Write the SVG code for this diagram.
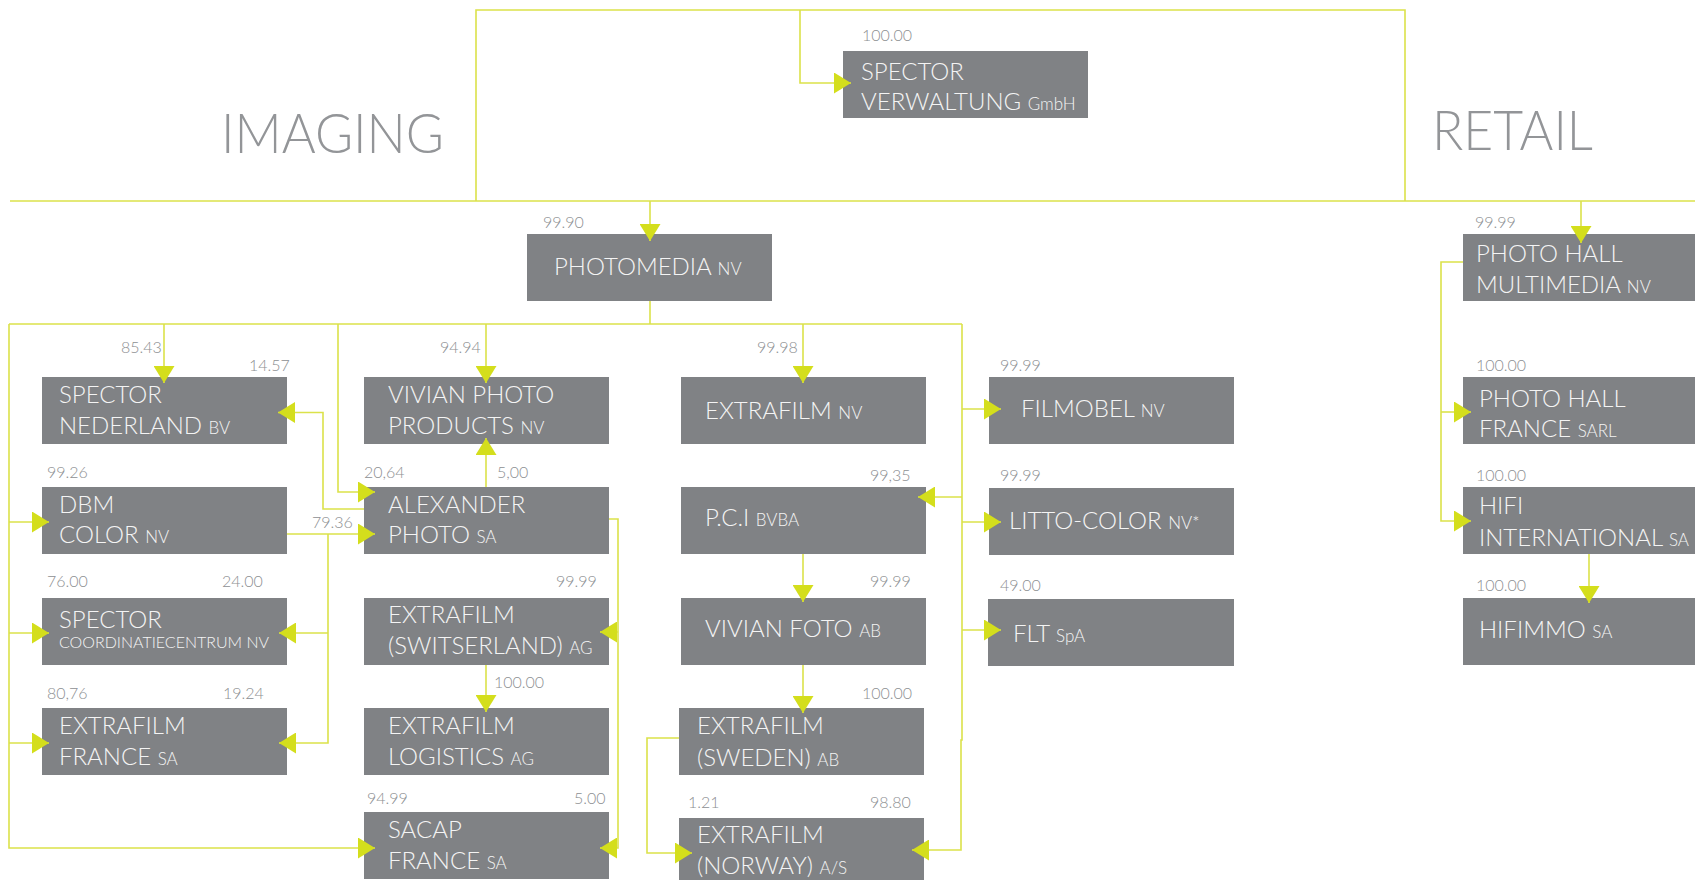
<svg xmlns="http://www.w3.org/2000/svg" width="1695" height="880" viewBox="0 0 1695 880">
<style>
.bg{fill:#ffffff}
.box{fill:#808285}
.t{font-family:Lato,"Open Sans","Liberation Sans",sans-serif;font-weight:300;font-size:24px;fill:#f4f4f4}
.s{font-size:17px}
.xs{font-size:15px}
.lbl{font-family:Lato,"Open Sans","Liberation Sans",sans-serif;font-weight:300;font-size:16px;fill:#8d8f92}
.head{font-family:Lato,"Open Sans","Liberation Sans",sans-serif;font-weight:300;font-size:55px;fill:#939598}
.ln{fill:none;stroke:#dbe24a;stroke-width:1.6}
.ar{marker-end:url(#arr)}
</style>
<defs>
<marker id="arr" markerUnits="userSpaceOnUse" viewBox="0 0 17 21" refX="17" refY="10.5" markerWidth="17" markerHeight="21" orient="auto">
<path d="M0,0 L17,10.5 L0,21 Z" fill="#d4de1c"/>
</marker>
</defs>
<rect class="bg" x="0" y="0" width="1695" height="880"/>

<text class="head" x="221" y="153" textLength="223" lengthAdjust="spacingAndGlyphs">IMAGING</text>
<text class="head" x="1432" y="150" textLength="161" lengthAdjust="spacingAndGlyphs">RETAIL</text>

<g id="nodes-boxes">
<g id="n-spector-verwaltung"><rect class="box" x="843" y="51" width="245" height="67"/><text class="lbl" x="862" y="41">100.00</text><text class="t" x="861" y="80">SPECTOR</text><text class="t" x="861" y="110">VERWALTUNG <tspan class="s">GmbH</tspan></text></g>
<g id="n-photomedia"><rect class="box" x="527" y="234" width="245" height="67"/><text class="lbl" x="543" y="228">99.90</text><text class="t" x="554" y="275">PHOTOMEDIA <tspan class="s">NV</tspan></text></g>
<g id="n-photohall-multimedia"><rect class="box" x="1463" y="234" width="245" height="67"/><text class="lbl" x="1475" y="228">99.99</text><text class="t" x="1476" y="262">PHOTO HALL</text><text class="t" x="1476" y="293">MULTIMEDIA <tspan class="s">NV</tspan></text></g>
<g id="n-photohall-france"><rect class="box" x="1463" y="377" width="245" height="67"/><text class="lbl" x="1476" y="371">100.00</text><text class="t" x="1479" y="407">PHOTO HALL</text><text class="t" x="1479" y="437">FRANCE <tspan class="s">SARL</tspan></text></g>
<g id="n-hifi"><rect class="box" x="1463" y="487" width="245" height="67"/><text class="lbl" x="1476" y="481">100.00</text><text class="t" x="1479" y="514">HIFI</text><text class="t" x="1479" y="546">INTERNATIONAL <tspan class="s">SA</tspan></text></g>
<g id="n-hifimmo"><rect class="box" x="1463" y="598" width="245" height="67"/><text class="lbl" x="1476" y="591">100.00</text><text class="t" x="1479" y="638">HIFIMMO <tspan class="s">SA</tspan></text></g>

<g id="n-spector-nederland"><rect class="box" x="42" y="377" width="245" height="67"/><text class="lbl" x="121" y="353">85.43</text><text class="lbl" x="249" y="371">14.57</text><text class="t" x="59" y="403">SPECTOR</text><text class="t" x="59" y="434">NEDERLAND <tspan class="s">BV</tspan></text></g>
<g id="n-dbm-color"><rect class="box" x="42" y="487" width="245" height="67"/><text class="lbl" x="47" y="478">99.26</text><text class="t" x="59" y="513">DBM</text><text class="t" x="59" y="543">COLOR <tspan class="s">NV</tspan></text></g>
<g id="n-spector-coord"><rect class="box" x="42" y="598" width="245" height="67"/><text class="lbl" x="47" y="587">76.00</text><text class="lbl" x="222" y="587">24.00</text><text class="t" x="59" y="628">SPECTOR</text><text class="t xs" x="59" y="648" textLength="210" lengthAdjust="spacingAndGlyphs">COORDINATIECENTRUM NV</text></g>
<g id="n-extrafilm-france"><rect class="box" x="42" y="708" width="245" height="67"/><text class="lbl" x="47" y="699">80,76</text><text class="lbl" x="223" y="699">19.24</text><text class="t" x="59" y="734">EXTRAFILM</text><text class="t" x="59" y="765">FRANCE <tspan class="s">SA</tspan></text></g>

<g id="n-vivian-photo-products"><rect class="box" x="364" y="377" width="245" height="67"/><text class="lbl" x="440" y="353">94.94</text><text class="t" x="388" y="403">VIVIAN PHOTO</text><text class="t" x="388" y="434">PRODUCTS <tspan class="s">NV</tspan></text></g>
<g id="n-alexander"><rect class="box" x="364" y="487" width="245" height="67"/><text class="lbl" x="364" y="478">20,64</text><text class="lbl" x="497" y="478">5,00</text><text class="lbl" x="312" y="528">79.36</text><text class="t" x="388" y="513">ALEXANDER</text><text class="t" x="388" y="543">PHOTO <tspan class="s">SA</tspan></text></g>
<g id="n-extrafilm-switserland"><rect class="box" x="364" y="598" width="245" height="67"/><text class="lbl" x="556" y="587">99.99</text><text class="t" x="388" y="623">EXTRAFILM</text><text class="t" x="388" y="654">(SWITSERLAND) <tspan class="s">AG</tspan></text></g>
<g id="n-extrafilm-logistics"><rect class="box" x="364" y="708" width="245" height="67"/><text class="lbl" x="494" y="688">100.00</text><text class="t" x="388" y="734">EXTRAFILM</text><text class="t" x="388" y="765">LOGISTICS <tspan class="s">AG</tspan></text></g>
<g id="n-sacap"><rect class="box" x="364" y="812" width="245" height="67"/><text class="lbl" x="367" y="804">94.99</text><text class="lbl" x="574" y="804">5.00</text><text class="t" x="388" y="838">SACAP</text><text class="t" x="388" y="869">FRANCE <tspan class="s">SA</tspan></text></g>

<g id="n-extrafilm-nv"><rect class="box" x="681" y="377" width="245" height="67"/><text class="lbl" x="757" y="353">99.98</text><text class="t" x="705" y="419">EXTRAFILM <tspan class="s">NV</tspan></text></g>
<g id="n-pci"><rect class="box" x="681" y="487" width="245" height="67"/><text class="lbl" x="870" y="481">99,35</text><text class="t" x="705" y="526">P.C.I <tspan class="s">BVBA</tspan></text></g>
<g id="n-vivian-foto"><rect class="box" x="681" y="598" width="245" height="67"/><text class="lbl" x="870" y="587">99.99</text><text class="t" x="705" y="637">VIVIAN FOTO <tspan class="s">AB</tspan></text></g>
<g id="n-extrafilm-sweden"><rect class="box" x="679" y="708" width="245" height="67"/><text class="lbl" x="862" y="699">100.00</text><text class="t" x="697" y="734">EXTRAFILM</text><text class="t" x="697" y="766">(SWEDEN) <tspan class="s">AB</tspan></text></g>
<g id="n-extrafilm-norway"><rect class="box" x="679" y="818" width="245" height="67"/><text class="lbl" x="688" y="808">1.21</text><text class="lbl" x="870" y="808">98.80</text><text class="t" x="697" y="843">EXTRAFILM</text><text class="t" x="697" y="874">(NORWAY) <tspan class="s">A/S</tspan></text></g>

<g id="n-filmobel"><rect class="box" x="989" y="377" width="245" height="67"/><text class="lbl" x="1000" y="371">99.99</text><text class="t" x="1021" y="417">FILMOBEL <tspan class="s">NV</tspan></text></g>
<g id="n-litto-color"><rect class="box" x="989" y="488" width="245" height="67"/><text class="lbl" x="1000" y="481">99.99</text><text class="t" x="1009" y="529">LITTO-COLOR <tspan class="s">NV*</tspan></text></g>
<g id="n-flt"><rect class="box" x="988" y="599" width="246" height="67"/><text class="lbl" x="1000" y="591">49.00</text><text class="t" x="1013" y="642">FLT <tspan class="s">SpA</tspan></text></g>
</g>

<g id="connectors">
<path class="ln" d="M476,201 V10 H1405 V201"/>
<path class="ln" d="M10,201 H1695"/>
<path class="ln ar" d="M800,10 V83 H851"/>
<path class="ln ar" d="M650,201 V241"/>
<path class="ln ar" d="M1581,201 V243"/>
<path class="ln" d="M650,301 V324"/>
<path class="ln" d="M9,324 H962"/>
<path class="ln ar" d="M9,324 V848 H375"/>
<path class="ln ar" d="M9,522 H49"/>
<path class="ln ar" d="M9,633 H49"/>
<path class="ln ar" d="M9,743 H49"/>
<path class="ln ar" d="M164,324 V383"/>
<path class="ln ar" d="M338,324 V492 H375"/>
<path class="ln ar" d="M486,324 V383"/>
<path class="ln ar" d="M803,324 V383"/>
<path class="ln ar" d="M962,324 V740 H961 V850 H912"/>
<path class="ln ar" d="M962,409 H1001"/>
<path class="ln ar" d="M962,497 H918"/>
<path class="ln ar" d="M962,522 H1001"/>
<path class="ln ar" d="M962,630 H1001"/>
<path class="ln ar" d="M486,487 V438"/>
<path class="ln ar" d="M364,509 H323 V412.5 H278"/>
<path class="ln ar" d="M287,534 H375"/>
<path class="ln ar" d="M328,534 V743 H279"/>
<path class="ln ar" d="M328,633 H279"/>
<path class="ln ar" d="M609,519 H618 V848 H600"/>
<path class="ln ar" d="M618,632 H600"/>
<path class="ln ar" d="M486,665 V712"/>
<path class="ln ar" d="M803,554 V602"/>
<path class="ln ar" d="M803,665 V713"/>
<path class="ln ar" d="M679,738 H647 V853 H692"/>
<path class="ln ar" d="M1463,262 H1441 V521 H1471"/>
<path class="ln ar" d="M1441,412 H1471"/>
<path class="ln ar" d="M1589,554 V603"/>
</g>
</svg>
